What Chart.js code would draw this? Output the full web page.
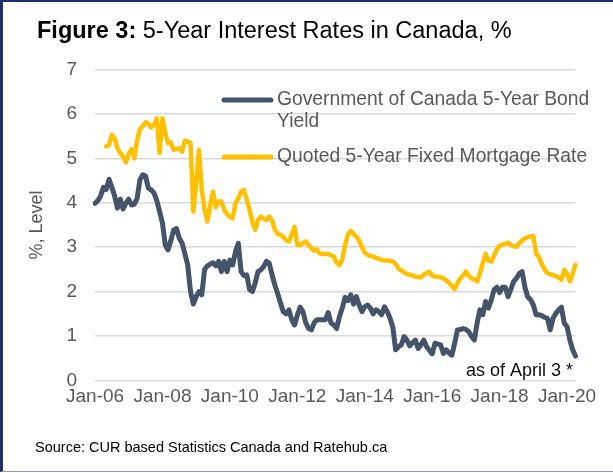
<!DOCTYPE html>
<html>
<head>
<meta charset="utf-8">
<script src="https://cdn.jsdelivr.net/npm/chart.js@4.4.1/dist/chart.umd.min.js"></script>
<style>
  html, body { margin: 0; padding: 0; background: #fff; }
  #wrap { position: relative; width: 613px; height: 473px; overflow: hidden; font-family: "Liberation Sans", Arial, sans-serif; }
  #chart { position: absolute; left: 0; top: 0; }
  #frame { position: absolute; left: 0; top: 0; width: 613px; height: 472px; border-left: 3px solid #1f2f6e; border-top: 2px solid #1f2f6e; border-bottom: 1px solid #8b94c4; box-sizing: border-box; pointer-events: none; }
  #title { position: absolute; left: 37px; top: 19px; font-size: 23.5px; line-height: 23px; color: #000; white-space: nowrap; }
  #title b { font-weight: bold; }
  #source { position: absolute; left: 35px; top: 440px; font-size: 14.5px; line-height: 14.5px; color: #000; white-space: nowrap; }
</style>
</head>
<body>
<div id="wrap">
  <canvas id="chart" width="613" height="473"></canvas>
  <div id="title"><b>Figure 3:</b> 5-Year Interest Rates in Canada, %</div>
  <div id="source">Source: CUR based Statistics Canada and Ratehub.ca</div>
  <div id="frame"></div>
</div>
<script>
// monthly, Jan 2006 .. Apr 2020
const startYear = 2006;
const monthCount = 172;
const monthNames = ["Jan", "Feb", "Mar", "Apr", "May", "Jun", "Jul", "Aug", "Sep", "Oct", "Nov", "Dec"];

const bondYield = [
  3.99, 4.05, 4.15, 4.35, 4.30, 4.53, 4.35, 4.15, 3.88, 4.08, 3.86, 3.99,
  4.08, 3.95, 3.97, 4.10, 4.52, 4.63, 4.60, 4.33, 4.29, 4.22, 4.05, 3.80,
  3.55, 3.05, 2.94, 3.15, 3.39, 3.42, 3.20, 3.09, 2.85, 2.60, 2.00, 1.72,
  1.89, 2.00, 1.93, 2.50, 2.58, 2.62, 2.65, 2.58, 2.68, 2.45, 2.68, 2.45,
  2.71, 2.60, 2.90, 3.09, 2.45, 2.36, 2.38, 2.05, 2.00, 2.19, 2.45, 2.49,
  2.56, 2.68, 2.64, 2.38, 2.15, 1.96, 1.75, 1.55, 1.50, 1.59, 1.37, 1.25,
  1.47, 1.65, 1.55, 1.30, 1.17, 1.14, 1.30, 1.37, 1.37, 1.37, 1.37, 1.53,
  1.29, 1.25, 1.17, 1.44, 1.63, 1.87, 1.80, 1.93, 1.72, 1.89, 1.70, 1.55,
  1.66, 1.70, 1.63, 1.50, 1.59, 1.55, 1.48, 1.66, 1.55, 1.40, 1.20, 0.69,
  0.76, 0.80, 0.99, 0.91, 0.78, 0.85, 0.91, 0.72, 0.80, 0.91, 0.76, 0.68,
  0.60, 0.84, 0.82, 0.80, 0.61, 0.69, 0.62, 0.57, 0.84, 1.14, 1.15, 1.17,
  1.15, 1.10, 0.99, 0.91, 1.30, 1.59, 1.48, 1.78, 1.63, 1.81, 2.04, 2.10,
  1.98, 2.10, 2.10, 1.89, 2.05, 2.23, 2.30, 2.41, 2.45, 2.10, 1.88, 1.82,
  1.70, 1.48, 1.48, 1.46, 1.42, 1.40, 1.14, 1.40, 1.51, 1.59, 1.65, 1.29,
  1.21, 0.91, 0.69, 0.55
];

const mortgageRate = [
  null, null, null, null, 5.27, 5.30, 5.53, 5.45, 5.23, 5.12, 5.04, 4.91,
  5.10, 5.21, 5.00, 5.40, 5.66, 5.72, 5.81, 5.78, 5.70, 5.75, 5.90, 5.12,
  5.90, 5.57, 5.34, 5.36, 5.19, 5.21, 5.23, 5.15, 5.40, 5.38, 5.35, 3.80,
  4.45, 5.19, 4.30, 3.85, 3.58, 3.95, 4.25, 3.90, 4.03, 4.03, 3.84, 3.75,
  3.68, 3.65, 3.99, 4.10, 4.25, 4.29, 4.07, 3.84, 3.58, 3.39, 3.61, 3.69,
  3.65, 3.61, 3.69, 3.61, 3.40, 3.30, 3.28, 3.24, 3.16, 3.13, 3.28, 3.46,
  3.05, 3.05, 3.09, 3.13, 3.05, 2.98, 2.92, 2.95, 2.86, 2.85, 2.85, 2.85,
  2.82, 2.79, 2.65, 2.60, 2.72, 3.05, 3.28, 3.37, 3.30, 3.24, 3.15, 3.00,
  2.88, 2.83, 2.80, 2.79, 2.76, 2.74, 2.71, 2.70, 2.70, 2.69, 2.68, 2.62,
  2.52, 2.48, 2.43, 2.40, 2.38, 2.36, 2.34, 2.33, 2.32, 2.38, 2.42, 2.45,
  2.36, 2.34, 2.34, 2.32, 2.30, 2.25, 2.20, 2.13, 2.06, 2.19, 2.30, 2.36,
  2.45, 2.36, 2.30, 2.27, 2.23, 2.41, 2.64, 2.85, 2.70, 2.68, 2.80, 2.95,
  3.03, 3.06, 3.08, 3.10, 3.05, 3.02, 3.01, 3.09, 3.15, 3.20, 3.23, 3.24,
  3.25, 2.85, 2.78, 2.62, 2.50, 2.42, 2.39, 2.37, 2.35, 2.32, 2.27, 2.49,
  2.40, 2.23, 2.40, 2.60
];

const yTicks = [0, 1, 2, 3, 4, 5, 6, 7];
const seriesNames = ["Government of Canada 5-Year Bond", "Quoted 5-Year Fixed Mortgage Rate"];
const noteText = "as of April 3 *";

const months = [];
for (let i = 0; i < monthCount; i++) {
  const yy = String((startYear + Math.floor(i / 12)) % 100).padStart(2, "0");
  months.push(monthNames[i % 12] + "-" + yy);
}

const NAVY = "#44546a";
const GOLD = "#ffc000";
const GREY_TEXT = "#595959";

// legend with wrapped first label, drawn inside the plot like the original
const sideLegend = {
  id: "sideLegend",
  afterDraw(chart) {
    const ctx = chart.ctx;
    ctx.save();
    ctx.font = "19.3px 'Liberation Sans', Arial, sans-serif";
    ctx.textBaseline = "middle";
    ctx.textAlign = "left";
    const rows = [
      { color: NAVY, y: 100, lines: [seriesNames[0], "Yield"] },
      { color: GOLD, y: 157, lines: [seriesNames[1]] },
    ];
    rows.forEach((r) => {
      ctx.strokeStyle = r.color;
      ctx.lineWidth = 5;
      ctx.lineCap = "round";
      ctx.beginPath();
      ctx.moveTo(224, r.y);
      ctx.lineTo(271, r.y);
      ctx.stroke();
      ctx.fillStyle = GREY_TEXT;
      r.lines.forEach((t, i) => ctx.fillText(t, 277, r.y + i * 22));
    });
    // note at the end of the bond line
    ctx.font = "18px 'Liberation Sans', Arial, sans-serif";
    ctx.fillStyle = "#0d0d0d";
    ctx.textAlign = "right";
    ctx.fillText(noteText, 573, 371);
    ctx.restore();
  },
};

Chart.defaults.font.family = "'Liberation Sans', Arial, sans-serif";

const chart = new Chart(document.getElementById("chart"), {
  type: "line",
  data: {
    labels: months,
    datasets: [
      {
        label: seriesNames[1],
        data: mortgageRate,
        borderColor: GOLD,
        borderWidth: 4.5,
        pointRadius: 0,
        tension: 0,
        borderJoinStyle: "round",
        borderCapStyle: "round",
        spanGaps: false,
      },
      {
        label: seriesNames[0],
        data: bondYield,
        borderColor: NAVY,
        borderWidth: 5,
        pointRadius: 0,
        tension: 0,
        borderJoinStyle: "round",
        borderCapStyle: "round",
      },
    ],
  },
  options: {
    responsive: false,
    animation: false,
    layout: {
      padding: { left: 0, top: 69.5, right: 37.5, bottom: 62.5 },
    },
    plugins: {
      legend: { display: false },
      tooltip: { enabled: false },
    },
    scales: {
      x: {
        grid: { display: false, drawTicks: false },
        border: { display: false },
        ticks: {
          autoSkip: false,
          maxRotation: 0,
          minRotation: 0,
          padding: 5,
          color: GREY_TEXT,
          font: { size: 19 },
          callback: function (value, index) {
            return index % 24 === 0 ? this.getLabelForValue(value) : null;
          },
        },
        afterFit: function (scale) {
          scale.height = 30;
        },
      },
      y: {
        min: 0,
        max: 7,
        afterBuildTicks: function (scale) {
          scale.ticks = yTicks.map((v) => ({ value: v }));
        },
        grid: { color: "#d9d9d9", lineWidth: 1.5, drawTicks: false },
        border: { display: false },
        ticks: {
          padding: 18,
          color: GREY_TEXT,
          font: { size: 19 },
        },
        title: {
          display: true,
          text: "%, Level",
          color: GREY_TEXT,
          font: { size: 18 },
          padding: { top: 26, bottom: 0 },
        },
        afterFit: function (scale) {
          scale.width = 95;
        },
      },
    },
  },
  plugins: [sideLegend],
});
</script>
</body>
</html>
